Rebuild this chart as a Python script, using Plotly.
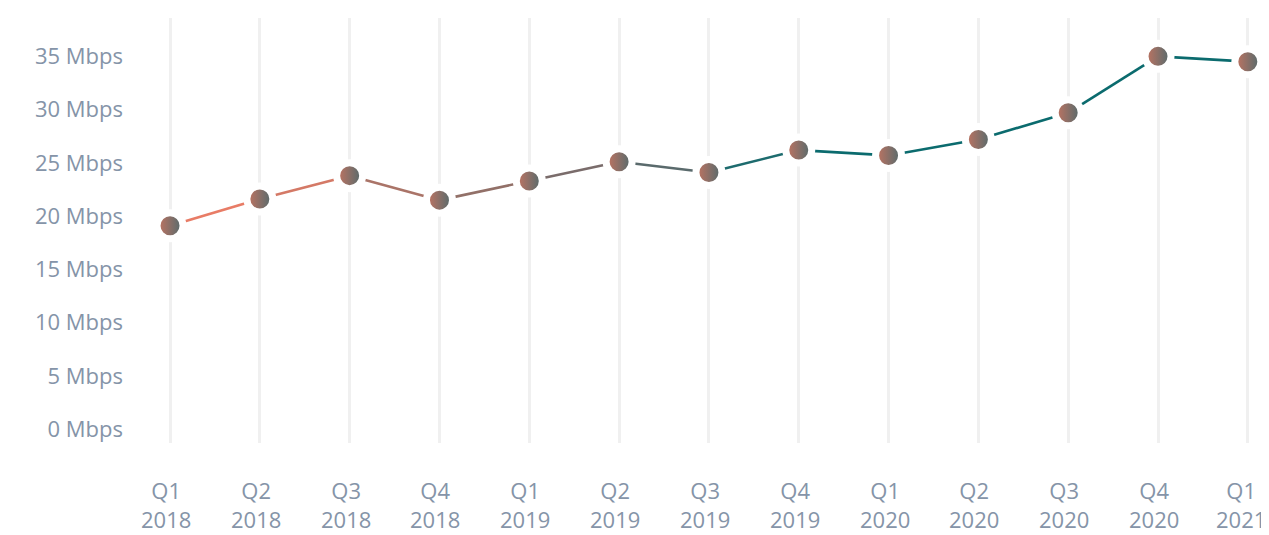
import plotly.graph_objects as go

quarters = ["Q1 2018", "Q2 2018", "Q3 2018", "Q4 2018",
            "Q1 2019", "Q2 2019", "Q3 2019", "Q4 2019",
            "Q1 2020", "Q2 2020", "Q3 2020", "Q4 2020",
            "Q1 2021"]
quarter_labels = ["Q1<br>2018", "Q2<br>2018", "Q3<br>2018", "Q4<br>2018",
                  "Q1<br>2019", "Q2<br>2019", "Q3<br>2019", "Q4<br>2019",
                  "Q1<br>2020", "Q2<br>2020", "Q3<br>2020", "Q4<br>2020",
                  "Q1<br>2021"]
speed_mbps = [19.1, 21.6, 23.8, 21.5, 23.3, 25.1, 24.1, 26.2, 25.7, 27.2, 29.7, 35.0, 34.5]

y_tickvals = [0, 5, 10, 15, 20, 25, 30, 35]
y_ticktext = [f"{v} Mbps" for v in y_tickvals]

segment_colors = ["#e87c66", "#d47966", "#aa7468", "#927068", "#7a6c6b",
                  "#5a6a6c", "#1d6b6e", "#0b6b6e", "#0b6b6e", "#0b6b6e",
                  "#0b6b6e", "#0b6b6e"]

FONT = "Open Sans"
TEXT_COLOR = "#8594a8"
FSIZE = 22

fig = go.Figure()
for i in range(len(quarters) - 1):
    fig.add_trace(go.Scatter(
        x=quarters[i:i + 2], y=speed_mbps[i:i + 2], mode="lines",
        line=dict(color=segment_colors[i], width=2.6),
        hoverinfo="skip", showlegend=False))

fig.add_trace(go.Scatter(
    x=quarters, y=speed_mbps, mode="markers", showlegend=False,
    marker=dict(size=26, color="#c47461",
                gradient=dict(type="horizontal", color="#506a6d"),
                line=dict(color="white", width=7))))

# x-axis labels as annotations so the last one can stay inside the page
for i, (q, lab) in enumerate(zip(quarters, quarter_labels)):
    last = i == len(quarters) - 1
    fig.add_annotation(
        x=q, xref="x", y=0, yref="paper", yanchor="top",
        yshift=-31, xshift=-7 if last else -4, borderpad=0,
        text=lab, showarrow=False, align="center",
        font=dict(family=FONT, size=FSIZE, color=TEXT_COLOR))

fig.update_layout(
    width=1261, height=527,
    margin=dict(l=127, r=5, t=10, b=92),
    plot_bgcolor="white", paper_bgcolor="white",
    font=dict(family=FONT, size=FSIZE, color=TEXT_COLOR),
    xaxis=dict(type="category", categoryorder="array", categoryarray=quarters,
               range=[-0.39, 12.18], automargin=False,
               showgrid=True, gridcolor="#f0f0f0", gridwidth=3,
               zeroline=False, showline=False, ticks="",
               showticklabels=False),
    yaxis=dict(range=[-1.3, 38.6], showgrid=False, zeroline=False,
               showline=False, ticks="", automargin=False,
               tickvals=y_tickvals, ticktext=y_ticktext,
               ticklabelstandoff=11,
               tickfont=dict(family=FONT, size=FSIZE, color=TEXT_COLOR)),
)

fig.write_html("out.html")
